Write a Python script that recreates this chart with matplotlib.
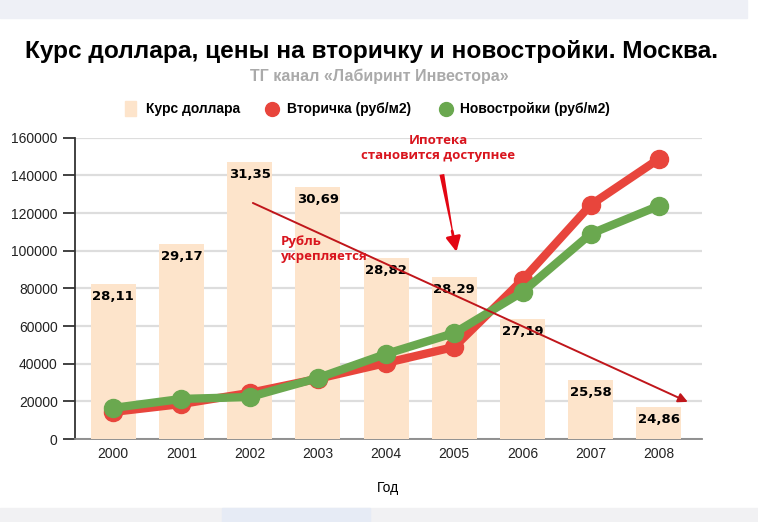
import matplotlib.pyplot as plt
from matplotlib.patches import Rectangle
import numpy as np

plt.rcParams['font.family'] = ['Liberation Sans', 'DejaVu Sans']

years = ['2000', '2001', '2002', '2003', '2004', '2005', '2006', '2007', '2008']
usd_rate = [28.11, 29.17, 31.35, 30.69, 28.82, 28.29, 27.19, 25.58, 24.86]
secondary = [14400, 18600, 24500, 32000, 40400, 48900, 84500, 124400, 148800]
new_build = [16500, 21300, 22300, 32400, 45200, 56300, 78100, 109000, 123900]

c_bar = '#fde4cb'
c_red = '#e8453c'
c_green = '#6aa84f'

fig = plt.figure(figsize=(7.58, 5.22), dpi=100)
# полоски от скриншота сверху и снизу
fig.patches.append(Rectangle((0, 0.965), 0.985, 0.035, transform=fig.transFigure,
                             color='#eef0f6', zorder=0))
fig.patches.append(Rectangle((0, 0), 1, 0.027, transform=fig.transFigure,
                             color='#f1f1f3', zorder=0))
fig.patches.append(Rectangle((0.293, 0), 0.195, 0.027, transform=fig.transFigure,
                             color='#e6ebf5', zorder=0))

ax = fig.add_axes([0.099, 0.159, 0.827, 0.577])
x = np.arange(len(years))
ax.set_xlim(-0.56, 8.63)
ax.set_ylim(0, 160000)
ax.set_yticks(np.arange(0, 160001, 20000))
ax.set_xticks(x)
ax.set_xticklabels(years)
ax.grid(axis='y', color='#dddddd', lw=1.6, zorder=0)
for s in ['top', 'right']:
    ax.spines[s].set_visible(False)
ax.spines['left'].set_color('#333333')
ax.spines['left'].set_linewidth(1.3)
ax.spines['bottom'].set_color('#888888')
ax.spines['bottom'].set_linewidth(1.3)
ax.tick_params(axis='y', length=9, width=1.3, color='#333333', labelsize=10, labelcolor='#222222')
ax.tick_params(axis='x', length=0, pad=6, labelsize=10, labelcolor='#222222')
ax.set_xlabel('Год', fontsize=10, labelpad=14)

# бары по скрытой второй оси, сетка остается под ними
ax2 = ax.twinx()
ax2.set_ylim(24, 32)
ax2.axis('off')
ax2.bar(x, usd_rate, width=0.66, color=c_bar, zorder=1)
for xi, v in zip(x, usd_rate):
    ax2.annotate(f'{v:.2f}'.replace('.', ','), (xi, v), xytext=(0, -9),
                 textcoords='offset points', ha='center', va='center',
                 fontsize=9.5, fontweight='bold', family='DejaVu Sans', zorder=2)

# линии рисуем поверх баров, но в координатах левой оси
tr = ax.transData
ax2.plot(x, secondary, color=c_red, lw=6, marker='o', ms=13, solid_joinstyle='round',
         solid_capstyle='round', zorder=3, clip_on=False, transform=tr)
ax2.plot(x, new_build, color=c_green, lw=6, marker='o', ms=13, solid_joinstyle='round',
         solid_capstyle='round', zorder=4, clip_on=False, transform=tr)
ax2.set_ylim(24, 32)

# аннотации
ax2.annotate('', xy=(8.46, 19100), xytext=(2.01, 126000), xycoords=tr, textcoords=tr,
             arrowprops=dict(arrowstyle='-|>', color='#c0161b', lw=1.4, mutation_scale=14),
             zorder=6, annotation_clip=False)
ax2.annotate('', xy=(5.03, 99400), xytext=(4.81, 142000), xycoords=tr, textcoords=tr,
             arrowprops=dict(arrowstyle='wedge,tail_width=0.35', color='#e30613', lw=0),
             zorder=6, annotation_clip=False)
ax2.annotate('', xy=(5.04, 98000), xytext=(4.96, 112000), xycoords=tr, textcoords=tr,
             arrowprops=dict(arrowstyle='-|>', color='#e30613', lw=2, mutation_scale=22),
             zorder=6, annotation_clip=False)
ax2.text(4.76, 154500, 'Ипотека\nстановится доступнее', color='#d9151e', fontsize=9.5,
         fontweight='bold', family='Open Sans', ha='center', va='center',
         linespacing=1.25, zorder=6, transform=tr)
ax2.text(2.46, 101000, 'Рубль\nукрепляется', color='#d9151e', fontsize=9.5,
         fontweight='bold', family='Open Sans', ha='left', va='center',
         linespacing=1.25, zorder=6, transform=tr)

fig.text(0.49, 0.902, 'Курс доллара, цены на вторичку и новостройки. Москва.',
         ha='center', va='center', fontsize=17.6, fontweight='bold')
fig.text(0.5, 0.853, 'ТГ канал «Лабиринт Инвестора»', ha='center', va='center',
         fontsize=11.5, fontweight='bold', color='#aaaaaa')

# легенда
ly = 0.792
fig.patches.append(Rectangle((0.165, ly - 0.014), 0.015, 0.028, transform=fig.transFigure,
                             color=c_bar))
fig.text(0.193, ly, 'Курс доллара', va='center', fontsize=10, fontweight='bold')
fig.lines.append(plt.Line2D([0.359], [ly], marker='o', ms=10, color=c_red,
                            transform=fig.transFigure))
fig.text(0.378, ly, 'Вторичка (руб/м2)', va='center', fontsize=10, fontweight='bold')
fig.lines.append(plt.Line2D([0.588], [ly], marker='o', ms=10, color=c_green,
                            transform=fig.transFigure))
fig.text(0.607, ly, 'Новостройки (руб/м2)', va='center', fontsize=10, fontweight='bold')

fig.savefig('out.png', dpi=100)
